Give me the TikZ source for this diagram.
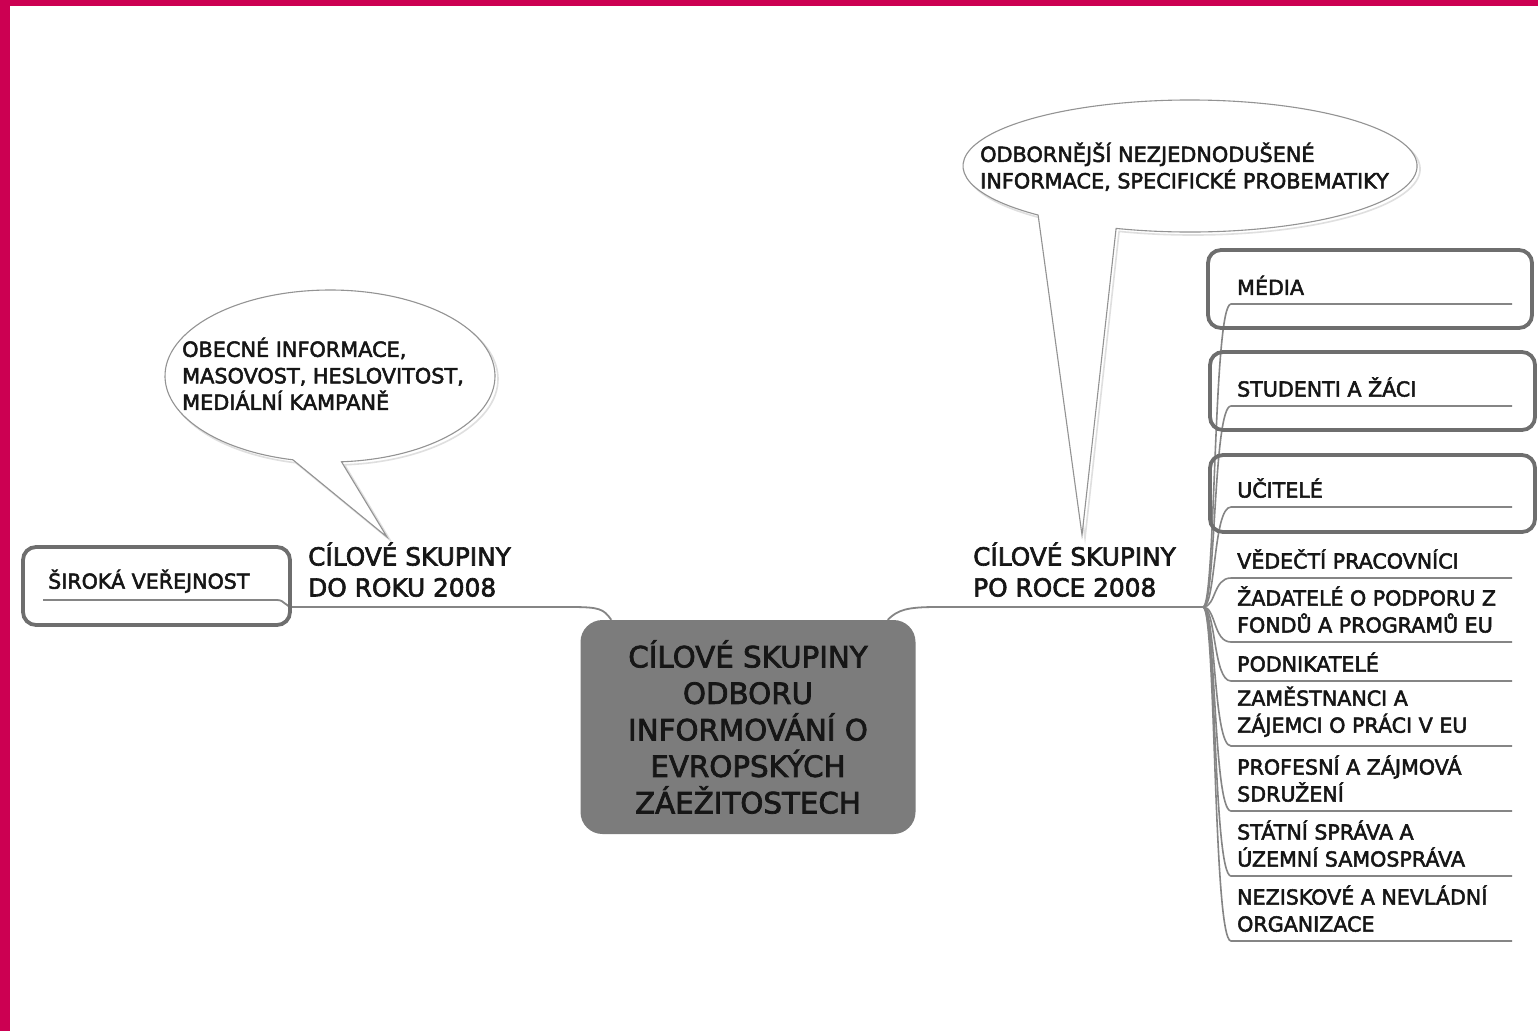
\documentclass[tikz,border=0pt]{standalone}
\usepackage{fontspec}
\setmainfont{DejaVu Sans}[FakeBold=2.5]
\definecolor{bandpink}{HTML}{CC0052}
\definecolor{rootgray}{HTML}{7C7C7C}
\definecolor{linegray}{HTML}{858585}
\definecolor{boxgray}{HTML}{6E6E6E}
\definecolor{inkgray}{HTML}{161616}
\begin{document}
\begin{tikzpicture}[x=1pt,y=-1pt]
\tikzstyle{item}=[anchor=south west,inner sep=0pt,align=left,text=inkgray,font=\fontsize{20.6}{27}\selectfont];
\tikzstyle{branch}=[item,font=\fontsize{24.8}{31}\selectfont];
\tikzstyle{say}=[item,font=\fontsize{20.8}{26.5}\selectfont];
\tikzstyle{root}=[fill=rootgray,rounded corners=22pt,minimum width=335pt,minimum height=214pt,inner sep=0pt,align=center,text=inkgray,font=\fontsize{29.3}{36.5}\selectfont];
\tikzstyle{link}=[draw=linegray,line width=1.8pt];
\tikzstyle{sketch}=[draw=boxgray,line width=3.8pt,rounded corners=13pt];
\tikzstyle{bubble}=[draw=gray!85,line width=1.1pt,fill=white];
\tikzstyle{bubbleshadow}=[draw=gray!25,line width=1.6pt];
\useasboundingbox (0,0) rectangle (1538,1031);
\fill[white] (0,0) rectangle (1538,1031);
\fill[bandpink] (0,0) rectangle (1538,6);
\fill[bandpink] (0,0) rectangle (10,1031);

% speech bubbles
\draw[bubbleshadow,shift={(3,3)}] ([shift={(86:165 and 86)}]330,376) arc[start angle=86,end angle=-257,x radius=165,y radius=86] -- (387,537) -- cycle;
\draw[bubble] ([shift={(86:165 and 86)}]330,376) arc[start angle=86,end angle=-257,x radius=165,y radius=86] -- (387,537) -- cycle;
\draw[bubbleshadow,shift={(3,3)}] ([shift={(109:227 and 66)}]1190,166) arc[start angle=109,end angle=-228,x radius=227,y radius=66] -- (1082,535) -- cycle;
\draw[bubble] ([shift={(109:227 and 66)}]1190,166) arc[start angle=109,end angle=-228,x radius=227,y radius=66] -- (1082,535) -- cycle;
\node[say] (sayold) at (182,410) {OBECNÉ INFORMACE,\\MASOVOST, HESLOVITOST,\\MEDIÁLNÍ KAMPANĚ};
\node[say] (saynew) at (980,191) {ODBORNĚJŠÍ NEZJEDNODUŠENÉ\\INFORMACE, SPECIFICKÉ PROBEMATIKY};

% centre and both branches
\node[root] (root) at (748,727) {CÍLOVÉ SKUPINY\\ODBORU\\INFORMOVÁNÍ O\\EVROPSKÝCH\\ZÁEŽITOSTECH};
\node[branch] (old) at (308,597) {CÍLOVÉ SKUPINY\\DO ROKU 2008};
\node[branch] (new) at (973,597) {CÍLOVÉ SKUPINY\\PO ROCE 2008};
\node[item] (wide) at (48,593) {ŠIROKÁ VEŘEJNOST};

\node[item] (c1) at (1237,295) {MÉDIA};
\node[item] (c2) at (1237,397) {STUDENTI A ŽÁCI};
\node[item] (c3) at (1237,498) {UČITELÉ};
\node[item] (c4) at (1237,569) {VĚDEČTÍ PRACOVNÍCI};
\node[item] (c5) at (1237,633) {ŽADATELÉ O PODPORU Z\\FONDŮ A PROGRAMŮ EU};
\node[item] (c6) at (1237,672) {PODNIKATELÉ};
\node[item] (c7) at (1237,737) {ZAMĚSTNANCI A\\ZÁJEMCI O PRÁCI V EU};
\node[item] (c8) at (1237,802) {PROFESNÍ A ZÁJMOVÁ\\SDRUŽENÍ};
\node[item] (c9) at (1237,867) {STÁTNÍ SPRÁVA A\\ÚZEMNÍ SAMOSPRÁVA};
\node[item] (c10) at (1237,932) {NEZISKOVÉ A NEVLÁDNÍ\\ORGANIZACE};

\coordinate (oldhub) at ([shift={(-15,10)}]old.south west);
\coordinate (newhub) at ([shift={(230,10)}]new.south west);

\draw[link] ([xshift=31pt]root.north west) .. controls +(-8,-11) and +(30,0) .. ([shift={(262,10)}]old.south west) -- (oldhub);
\draw[link] (oldhub) .. controls +(-8,0) and +(8,0) .. ([shift={(229,7)}]wide.south west) -- ([shift={(-5,7)}]wide.south west);
\draw[link] ([xshift=-28pt]root.north east) .. controls +(10,-10) and +(-30,0) .. ([shift={(-36,10)}]new.south west) -- (newhub);
\foreach \i in {1,...,10}
  \draw[link,line width=1.6pt] (newhub) .. controls +(13,0) and ([shift={(-24,9)}]c\i.south west) .. ([shift={(-6,9)}]c\i.south west) -- ++(281,0);

% hand drawn frames
\draw[sketch] ([shift={(-25,-46)}]wide.south west) rectangle ++(267,78);
\draw[sketch] ([shift={(-29,-45)}]c1.south west) rectangle ++(324,78);
\draw[sketch] ([shift={(-27,-45)}]c2.south west) rectangle ++(325,78);
\draw[sketch] ([shift={(-27,-43)}]c3.south west) rectangle ++(325,77);
\end{tikzpicture}
\end{document}
